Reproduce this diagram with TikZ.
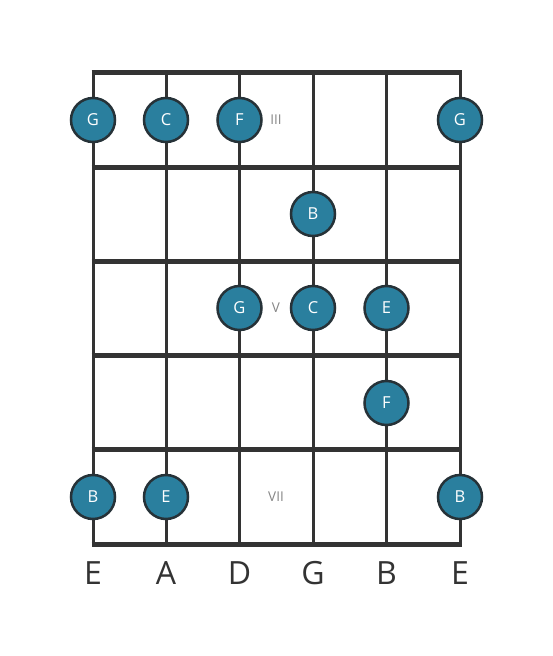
\documentclass[tikz,border=0pt]{standalone}
\usepackage{fontspec}
\setmainfont{Open Sans}
\definecolor{linec}{HTML}{333333}
\definecolor{notefill}{HTML}{2A7F9E}
\definecolor{noteedge}{HTML}{263238}
\definecolor{posc}{HTML}{858585}
\tikzset{
  stringline/.style={draw=linec, line width=3pt},
  fretline/.style={draw=linec, line width=5pt},
  note/.style={circle, fill=notefill, draw=noteedge, line width=2.5pt, minimum size=44pt, inner sep=0pt, text=white, font=\fontsize{16.5}{16.5}\selectfont},
  posmark/.style={text=posc, font=\fontsize{13.5}{13.5}\selectfont},
  strlabel/.style={text=linec, font=\fontsize{32}{32}\selectfont}
}
\begin{document}
\begin{tikzpicture}[x=1pt,y=-1pt]
\useasboundingbox (0,0) rectangle (553,656);
% string coordinates
\foreach \n/\x in {1/93,2/166,3/239.5,4/313,5/386.5,6/460}{
  \coordinate (t\n) at (\x,72);
  \coordinate (b\n) at (\x,544);
}
\foreach \n in {1,...,6}{ \draw[stringline] (t\n) -- (b\n); }
\foreach \f/\y in {0/72,1/167,2/261,3/355,4/449,5/544}{
  \coordinate (fl\f) at (91.5,\y);
  \coordinate (fr\f) at (461.5,\y);
  \draw[fretline] (fl\f) -- (fr\f);
}
% notes
\node[note] (n1) at (93,120) {G};
\node[note] (n2) at (166,120) {C};
\node[note] (n3) at (239.5,120) {F};
\node[note] (n4) at (460,120) {G};
\node[note] (n5) at (313,214) {B};
\node[note] (n6) at (239.5,308) {G};
\node[note] (n7) at (313,308) {C};
\node[note] (n8) at (386.5,308) {E};
\node[note] (n9) at (386.5,403) {F};
\node[note] (n10) at (93,497) {B};
\node[note] (n11) at (166,497) {E};
\node[note] (n12) at (460,497) {B};
% position markers
\node[posmark] (p3) at (276,120) {III};
\node[posmark] (p5) at (276,308) {V};
\node[posmark] (p7) at (276,497) {VII};
% string names
\node[strlabel] (s1) at (93,573) {E};
\node[strlabel] (s2) at (166,573) {A};
\node[strlabel] (s3) at (239.5,573) {D};
\node[strlabel] (s4) at (313,573) {G};
\node[strlabel] (s5) at (386.5,573) {B};
\node[strlabel] (s6) at (460,573) {E};
\end{tikzpicture}
\end{document}
